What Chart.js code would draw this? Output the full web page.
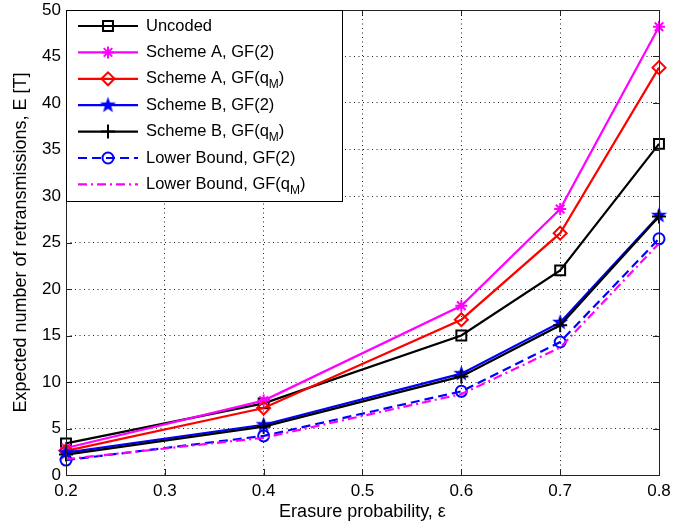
<!DOCTYPE html>
<html>
<head>
<meta charset="utf-8">
<script src="https://cdn.jsdelivr.net/npm/chart.js@4.4.0/dist/chart.umd.min.js"></script>
<style>
  html, body { margin: 0; padding: 0; background: #fff; }
  #wrap { width: 692px; height: 527px; }
</style>
</head>
<body>
<div id="wrap"><canvas id="chart" width="692" height="527"></canvas></div>
<script>
// values
const erasureProb = [0.2, 0.4, 0.6, 0.7, 0.8];
const uncoded     = [3.4, 7.7, 15.0, 22.0, 35.6];
const schemeAGF2  = [2.9, 8.0, 18.2, 28.6, 48.2];
const schemeAGFq  = [2.6, 7.2, 16.7, 26.0, 43.8];
const schemeBGF2  = [2.4, 5.4, 10.9, 16.4, 27.9];
const schemeBGFq  = [2.2, 5.2, 10.6, 16.1, 27.8];
const lowerGF2    = [1.6, 4.2, 9.0, 14.3, 25.4];
const lowerGFq    = [1.7, 4.0, 8.7, 13.7, 24.9];

const seriesLabels = [
    'Uncoded', 'Scheme A, GF(2)', 'Scheme A, GF(q_M)', 'Scheme B, GF(2)',
    'Scheme B, GF(q_M)', 'Lower Bound, GF(2)', 'Lower Bound, GF(q_M)'
];
const xTicks = [0.2, 0.3, 0.4, 0.5, 0.6, 0.7, 0.8];
const yTicks = [0, 5, 10, 15, 20, 25, 30, 35, 40, 45, 50];

const FONT = '"Liberation Sans", Arial, Helvetica, sans-serif';

// filled five-point star marker (matlab 'p')
function makePentagram(r, color) {
    const c = document.createElement('canvas');
    const s = Math.ceil(r * 2 + 2);
    c.width = s; c.height = s;
    const g = c.getContext('2d');
    g.beginPath();
    for (let i = 0; i < 10; i++) {
        const ang = -Math.PI / 2 + i * Math.PI / 5;
        const rad = i % 2 ? r * 0.4 : r;
        const px = s / 2 + rad * Math.cos(ang), py = s / 2 + rad * Math.sin(ang);
        if (i === 0) g.moveTo(px, py); else g.lineTo(px, py);
    }
    g.closePath();
    g.fillStyle = color;
    g.fill();
    return c;
}
const pentagram = makePentagram(8.5, '#0000ff');

const toPoints = arr => arr.map((v, i) => ({ x: erasureProb[i], y: v }));
const none = 'rgba(0,0,0,0)';

const datasets = [
    { data: toPoints(uncoded), borderColor: '#000', pointStyle: 'rect', pointRadius: 7 },
    { data: toPoints(schemeAGF2), borderColor: '#ff00ff', pointStyle: 'star', pointRadius: 6 },
    { data: toPoints(schemeAGFq), borderColor: '#ff0000', pointStyle: 'rectRot', pointRadius: 6.5 },
    { data: toPoints(schemeBGF2), borderColor: '#0000ff', pointStyle: pentagram, pointRadius: 8 },
    { data: toPoints(schemeBGFq), borderColor: '#000', pointStyle: 'cross', pointRadius: 7 },
    { data: toPoints(lowerGF2), borderColor: '#0000ff', pointStyle: 'circle', pointRadius: 5.5, borderDash: [9, 5] },
    { data: toPoints(lowerGFq), borderColor: '#ff00ff', pointStyle: false, pointRadius: 0, borderDash: [9, 4, 2, 4] }
].map((ds, i) => Object.assign({
    label: seriesLabels[i],
    borderWidth: 2.2,
    pointBorderColor: ds.borderColor,
    pointBackgroundColor: none,
    pointBorderWidth: 2,
    tension: 0,
    clip: false,
    order: 10 - i
}, ds));

// axes box with inward ticks, matlab style
const frame = {
    id: 'frame',
    afterDatasetsDraw(chart) {
        const { ctx, chartArea: a, scales } = chart;
        ctx.save();
        ctx.strokeStyle = '#222';
        ctx.lineWidth = 1;
        ctx.setLineDash([]);
        ctx.strokeRect(a.left + 0.5, a.top + 0.5, a.right - a.left, a.bottom - a.top);
        ctx.beginPath();
        xTicks.forEach(v => {
            const px = Math.round(scales.x.getPixelForValue(v)) + 0.5;
            ctx.moveTo(px, a.bottom); ctx.lineTo(px, a.bottom - 6);
            ctx.moveTo(px, a.top); ctx.lineTo(px, a.top + 6);
        });
        yTicks.forEach(v => {
            const py = Math.round(scales.y.getPixelForValue(v)) + 0.5;
            ctx.moveTo(a.left, py); ctx.lineTo(a.left + 6, py);
            ctx.moveTo(a.right, py); ctx.lineTo(a.right - 6, py);
        });
        ctx.stroke();
        ctx.restore();
    }
};

// legend drawn as a boxed panel in the top-left corner of the plot
const boxLegend = {
    id: 'boxLegend',
    afterDatasetsDraw(chart) {
        const { ctx, chartArea: a } = chart;
        const x0 = a.left, y0 = a.top, w = 276, h = 191;
        ctx.save();
        ctx.fillStyle = '#fff';
        ctx.fillRect(x0, y0, w, h);
        ctx.strokeStyle = '#000';
        ctx.lineWidth = 1;
        ctx.strokeRect(x0 + 0.5, y0 + 0.5, w, h);

        chart.data.datasets.forEach((ds, i) => {
            const y = y0 + 16 + i * 26.4;
            ctx.strokeStyle = ds.borderColor;
            ctx.lineWidth = ds.borderWidth;
            ctx.setLineDash(ds.borderDash || []);
            ctx.beginPath();
            ctx.moveTo(x0 + 12, y);
            ctx.lineTo(x0 + 72, y);
            ctx.stroke();
            ctx.setLineDash([]);
            if (ds.pointStyle) {
                ctx.fillStyle = ds.pointBackgroundColor;
                ctx.strokeStyle = ds.pointBorderColor;
                ctx.lineWidth = ds.pointBorderWidth;
                Chart.helpers.drawPoint(ctx, {
                    pointStyle: ds.pointStyle, radius: ds.pointRadius,
                    borderWidth: ds.pointBorderWidth, rotation: 0
                }, x0 + 42, y);
            }
            // label, with "_M" as a subscript
            ctx.fillStyle = '#000';
            ctx.textBaseline = 'middle';
            ctx.font = '16.5px ' + FONT;
            const parts = ds.label.split('_');
            let tx = x0 + 80;
            ctx.fillText(parts[0], tx, y);
            if (parts.length > 1) {
                tx += ctx.measureText(parts[0]).width;
                ctx.font = '12px ' + FONT;
                ctx.fillText(parts[1][0], tx, y + 6);
                tx += ctx.measureText(parts[1][0]).width;
                ctx.font = '16.5px ' + FONT;
                ctx.fillText(parts[1].slice(1), tx, y);
            }
        });
        ctx.restore();
    }
};

new Chart(document.getElementById('chart'), {
    type: 'line',
    data: { datasets },
    options: {
        responsive: false,
        animation: false,
        layout: { padding: { top: 8, right: 33, left: 0, bottom: 0 } },
        plugins: { legend: { display: false }, tooltip: { enabled: false } },
        scales: {
            x: {
                type: 'linear',
                min: 0.2,
                max: 0.8,
                afterBuildTicks: s => { s.ticks = xTicks.map(v => ({ value: v })); },
                afterFit: s => { s.height = 52; s.paddingLeft = 0; s.paddingRight = 0; },
                grid: { color: '#222', lineWidth: 1, drawTicks: false },
                border: { display: false, dash: [1, 3.5] },
                ticks: {
                    color: '#000', font: { family: FONT, size: 17 }, padding: 6,
                    maxRotation: 0, callback: v => v.toFixed(1)
                },
                title: {
                    display: true, text: 'Erasure probability, ε', color: '#000',
                    font: { family: FONT, size: 18 }, padding: { top: 0, bottom: 4 }
                }
            },
            y: {
                min: 0,
                max: 50,
                afterBuildTicks: s => { s.ticks = yTicks.map(v => ({ value: v })); },
                afterFit: s => { s.width = 66; s.paddingTop = 0; s.paddingBottom = 0; },
                grid: { color: '#222', lineWidth: 1, drawTicks: false },
                border: { display: false, dash: [1, 3.5] },
                ticks: { color: '#000', font: { family: FONT, size: 17 }, padding: 5 },
                title: {
                    display: true, text: 'Expected number of retransmissions, E [T]', color: '#000',
                    font: { family: FONT, size: 18 }, padding: { top: 10, bottom: 0 }
                }
            }
        }
    },
    plugins: [frame, boxLegend]
});
</script>
</body>
</html>
